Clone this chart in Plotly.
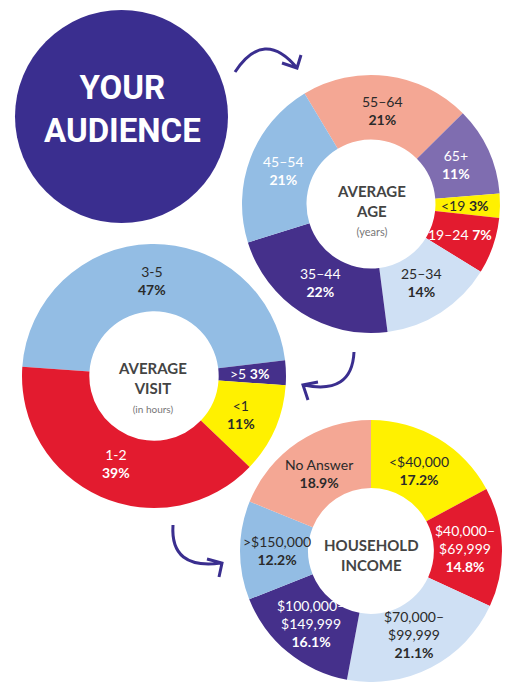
import math
import plotly.graph_objects as go

W, H = 511, 682

# ---------------- data ----------------
age_labels = ["55–64", "65+", "&lt;19", "19–24", "25–34", "35–44", "45–54"]
age_values = [21, 11, 3, 7, 14, 22, 21]

visit_labels = ["3-5", "&gt;5", "&lt;1", "1-2"]
visit_values = [47, 3, 11, 39]

income_labels = ["&lt;$40,000", "$40,000–<br>$69,999", "$70,000–<br>$99,999",
                 "$100,000–<br>$149,999", "&gt;$150,000", "No Answer"]
income_values = [17.2, 14.8, 21.1, 16.1, 12.2, 18.9]

# ---------------- style ----------------
NAVY = "#3a2e8f"
DPURP = "#45308b"
PURP = "#7f6db0"
SALMON = "#f4a794"
YELLOW = "#fff100"
RED = "#e31b2f"
BLUE = "#93bde4"
LBLUE = "#cfe0f4"
DARK = "#2a2a2a"
WHITE = "#ffffff"
FONT = "Lato"

age_colors = [SALMON, PURP, YELLOW, RED, LBLUE, DPURP, BLUE]
age_tc = [DARK, WHITE, DARK, WHITE, DARK, WHITE, WHITE]
visit_colors = [BLUE, DPURP, YELLOW, RED]
visit_tc = [DARK, WHITE, DARK, WHITE]
income_colors = [YELLOW, RED, LBLUE, DPURP, BLUE, SALMON]
income_tc = [DARK, WHITE, DARK, WHITE, DARK, DARK]


def fx(x):
    return x / W


def fy(y):
    return 1 - y / H


def dom(cx, cy, r):
    y0 = max(0.0, fy(cy + r))
    y1 = min(1.0, fy(cy - r))
    return dict(x=[fx(cx - r), fx(cx + r)], y=[y0, y1])


def fmt(v):
    return f"{v:g}%" if float(v).is_integer() else f"{v:.1f}%"


fig = go.Figure()
annotations = []

pies = [
    # labels, values, colours, text colours, (cx, cy, r), rotation, one-line slices, hole
    (age_labels, age_values, age_colors, age_tc, (371, 204, 129), -31, (2, 3), 0.5),
    (visit_labels, visit_values, visit_colors, visit_tc, (154, 376, 132), -86, (1,), 0.49),
    (income_labels, income_values, income_colors, income_tc, (371, 551, 131), 0, (), 0.48),
]
for labels, values, colors, tc, (cx, cy, r), rot, one, hole in pies:
    fig.add_trace(go.Pie(
        labels=labels, values=values, textinfo="none",
        marker=dict(colors=colors, line=dict(width=0)),
        hole=hole, sort=False, direction="clockwise", rotation=rot,
        domain=dom(cx, cy, r), hoverinfo="skip", showlegend=False,
    ))
    total = sum(values)
    cum = 0.0
    rl = r * (1 + hole) / 2 - 3
    for i, (lab, v) in enumerate(zip(labels, values)):
        a = math.radians(rot + 360 * (cum + v / 2) / total)
        cum += v
        x = cx + rl * math.sin(a)
        y = cy - rl * math.cos(a)
        sep = " " if i in one else "<br>"
        t = f"{lab}{sep}<span style='font-weight:900'><b>{fmt(v)}</b></span>"
        annotations.append(dict(
            x=fx(x), y=fy(y), xref="paper", yref="paper", showarrow=False,
            xanchor="center", yanchor="middle", align="center", text=t,
            font=dict(family=FONT, size=14, color=tc[i])))

shapes = [dict(type="circle", xref="paper", yref="paper",
               x0=fx(15), x1=fx(228), y0=fy(223), y1=fy(10),
               fillcolor=NAVY, line=dict(width=0), layer="below")]


def path(pts_curve, head):
    (x0, y0), (qx, qy), (x1, y1) = pts_curve
    c = f"M {fx(x0)},{fy(y0)} Q {fx(qx)},{fy(qy)} {fx(x1)},{fy(y1)}"
    (ax, ay), (tx, ty), (bx, by) = head
    h = f"M {fx(ax)},{fy(ay)} L {fx(tx)},{fy(ty)} L {fx(bx)},{fy(by)}"
    return c + " " + h


arrows = [
    (((235, 72), (264, 28), (297, 68)), ((282, 63), (297, 68), (301, 55))),
    (((354, 352), (352, 395), (304, 385)), ((318, 382), (303, 385), (308, 400))),
    (((173, 525), (170, 570), (221, 563)), ((207, 559), (222, 563), (219, 577))),
]
for curve, head in arrows:
    shapes.append(dict(type="path", xref="paper", yref="paper",
                       path=path(curve, head),
                       line=dict(color=NAVY, width=3)))

# text blocks: (x, y, text, size, color, family)
sub_age = "<span style='font-size:11px;color:#777777'>(years)</span>"
sub_visit = "<span style='font-size:10px;color:#777777'>(in hours)</span>"
center_lines = [
    (122, 109, "<b>YOUR<br>AUDIENCE</b>", 33, WHITE, "Roboto"),
    (371, 210, f"<b>AVERAGE<br>AGE</b><br>{sub_age}", 15, "#444444", FONT),
    (152, 387, f"<b>AVERAGE<br>VISIT</b><br>{sub_visit}", 15, "#444444", FONT),
    (371, 555, "<b>HOUSEHOLD<br>INCOME</b>", 15, "#444444", FONT),
]
for x, y, t, s, c, f in center_lines:
    annotations.append(dict(x=fx(x), y=fy(y), xref="paper", yref="paper", showarrow=False,
                            xanchor="center", yanchor="middle", align="center", text=t,
                            font=dict(family=f, size=s, color=c)))

fig.update_layout(
    width=W, height=H, margin=dict(l=0, r=0, t=0, b=0),
    paper_bgcolor="white", plot_bgcolor="white",
    shapes=shapes, annotations=annotations,
)

fig.write_html("out.html", config={"displayModeBar": False},
               post_script="document.body.style.margin='0px';")
